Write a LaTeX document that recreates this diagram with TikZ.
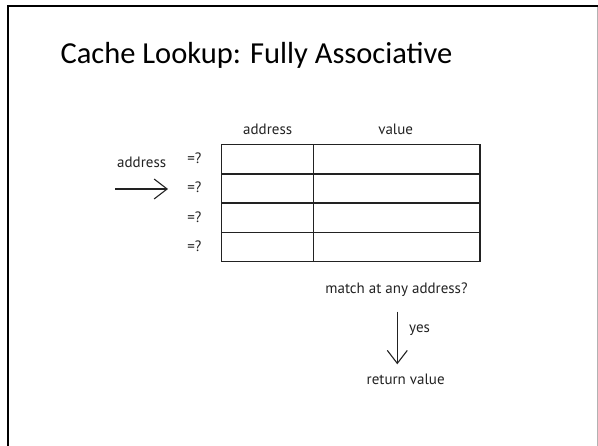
\documentclass[tikz,border=0pt]{standalone}
\usepackage{fontspec}
\setmainfont{PT Sans}
\newfontfamily\titlefont{Carlito}
\usetikzlibrary{arrows.meta}
\definecolor{ink}{HTML}{222222}
\tikzset{
  cell/.style={draw=ink, line width=1.4pt, minimum height=29.25pt, inner sep=0pt, anchor=north west},
  acell/.style={cell, minimum width=92pt},
  vcell/.style={cell, minimum width=166.5pt},
  lbl/.style={font=\fontsize{15}{18}\selectfont, text=ink, inner sep=0pt},
  cmp/.style={lbl},
  flow/.style={line width=1.1pt, draw=ink, -{Straight Barb[length=13pt, width=20pt, line width=1.1pt]}},
}
\begin{document}
\begin{tikzpicture}[x=1pt, y=-1pt]
  \useasboundingbox (0,0) rectangle (598,446);
  % slide frame
  \draw[line width=2.6pt, black] (8,446) -- (8,6) -- (598,6);
  \draw[line width=1pt, black!30] (597.5,7) -- (597.5,446);

  % title
  \node[inner sep=0pt, anchor=base] (title) at (256.5,63.5)
    {\titlefont\fontsize{30.5}{36}\selectfont Cache Lookup: Fully Associative};

  % cache table
  \foreach \i in {1,...,4} {
    \node[acell] (a\i) at (220.7, {144+(\i-1)*29.25}) {};
    \node[vcell] (v\i) at (312.7, {144+(\i-1)*29.25}) {};
    \node[cmp, anchor=east] (q\i) at ([xshift=-19pt, yshift=1pt]a\i.west) {=?};
  }
  \node[lbl, anchor=base] (hA) at (267.7,135) {address};
  \node[lbl, anchor=base] (hV) at (395.7,135) {value};

  % incoming address
  \node[lbl, anchor=base] (inlbl) at (141.7,168) {address};
  \coordinate (inS) at (115,189);
  \coordinate (inE) at (168,189);
  \draw[flow] (inS) -- (inE);

  % result
  \node[lbl, anchor=base] (match) at (396.5,294) {match at any address?};
  \node[lbl, anchor=base] (ret) at (405.7,385) {return value};
  \coordinate (dS) at (397.3,311.7);
  \coordinate (dE) at (397.3,364.3);
  \draw[flow] (dS) -- (dE);
  \node[lbl, anchor=west] (yes) at (409,330) {yes};
\end{tikzpicture}
\end{document}
